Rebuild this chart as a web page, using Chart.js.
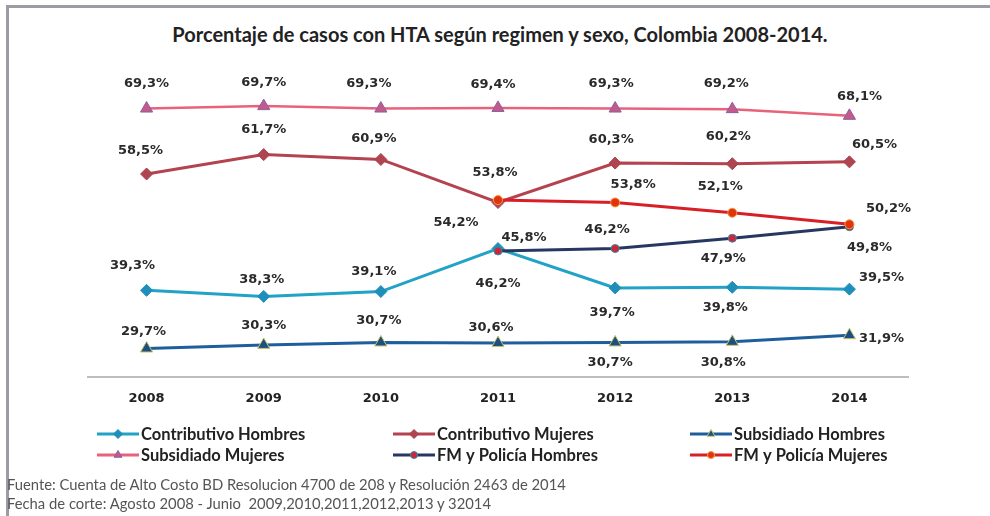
<!DOCTYPE html>
<html>
<head>
<meta charset="utf-8">
<script src="https://cdn.jsdelivr.net/npm/chart.js@4.4.1/dist/chart.umd.min.js"></script>
<style>
  html, body { margin: 0; padding: 0; background: #fff; }
  #wrap { position: relative; width: 990px; height: 516px; overflow: hidden; }
  #frame { position: absolute; left: 6px; top: 5px; right: 0; bottom: 0;
           border-top: 3px solid #9c9ca4; border-left: 3px solid #9c9ca4; }
  #title { position: absolute; left: 0; width: 1000px; top: 22px; text-align: center;
           font: bold 20px Lato, sans-serif; color: #222; }
  #chart { position: absolute; left: 0; top: 0; }
  .note { position: absolute; left: 7px; font: 14.8px Lato, sans-serif; color: #555; white-space: nowrap; }
</style>
</head>
<body>
<div id="wrap">
  <div id="frame"></div>
  <div id="title">Porcentaje de casos con HTA según regimen y sexo, Colombia 2008-2014.</div>
  <canvas id="chart" width="990" height="516"></canvas>
  <div class="note" style="top:475px">Fuente: Cuenta de Alto Costo BD Resolucion 4700 de 208 y Resolución 2463 de 2014</div>
  <div class="note" style="top:494px">Fecha de corte: Agosto 2008 - Junio&nbsp; 2009,2010,2011,2012,2013 y 32014</div>
</div>
<script>
// data
let years = ['2008', '2009', '2010', '2011', '2012', '2013', '2014'];

let contributivoHombres = [39.3, 38.3, 39.1, 46.2, 39.7, 39.8, 39.5];
let contributivoMujeres = [58.5, 61.7, 60.9, 53.8, 60.3, 60.2, 60.5];
let subsidiadoHombres   = [29.7, 30.3, 30.7, 30.6, 30.7, 30.8, 31.9];
let subsidiadoMujeres   = [69.3, 69.7, 69.3, 69.4, 69.3, 69.2, 68.1];
let fmHombres           = [null, null, null, 45.8, 46.2, 47.9, 49.8];
let fmMujeres           = [null, null, null, 54.2, 53.8, 52.1, 50.2];

// where each value label sits, relative to its point (dx, dy)
let labelsCH = [[-14,-25],[-2,-17],[-7,-20],[0,35],[-3,25],[-7,20],[32,-12]];
let labelsCM = [[-6,-23],[0,-25],[-7,-21],[-3,-30],[-4,-23],[-4,-27],[25,-17]];
let labelsSH = [[-3,-17],[0,-19],[-2,-22],[-7,-15],[-5,20],[-9,21],[32,3]];
let labelsSM = [[0,-25],[0,-23],[-12,-25],[-5,-23],[-4,-25],[-6,-26],[10,-19]];
let labelsFH = [null,null,null,[26,-13],[-8,-19],[-9,20],[20,21]];
let labelsFM = [null,null,null,[-42,23],[18,-18],[-12,-26],[39,-16]];

function serie(label, data, line, fill, border, style, radius, width, labels, order) {
    return {
        label: label,
        data: data,
        borderColor: line,
        backgroundColor: line,
        borderWidth: width,
        pointStyle: style,
        pointRadius: radius,
        pointHoverRadius: radius,
        pointBackgroundColor: fill,
        pointBorderColor: border,
        pointBorderWidth: 1,
        tension: 0,
        order: order,
        labelPos: labels
    };
}

let datasets = [
    serie('Contributivo Hombres', contributivoHombres, '#22a2c6', '#1f8fb9', '#1f8fb9', 'rectRot', 6, 3, labelsCH, 2),
    serie('Contributivo Mujeres', contributivoMujeres, '#b4434f', '#b04552', '#a8404c', 'rectRot', 6, 3, labelsCM, 2),
    serie('Subsidiado Hombres', subsidiadoHombres, '#1f5e9c', '#1d4f80', '#c9c56a', 'triangle', 7, 3, labelsSH, 2),
    serie('Subsidiado Mujeres', subsidiadoMujeres, '#e8627b', '#c45a8c', '#8a5f9e', 'triangle', 7, 2.5, labelsSM, 2),
    serie('FM y Policía Hombres', fmHombres, '#263862', '#cf2440', '#2f8f95', 'circle', 4, 3, labelsFH, 1),
    serie('FM y Policía Mujeres', fmMujeres, '#d81f26', '#e0340f', '#f39a3a', 'circle', 4.5, 3, labelsFM, 0)
];

// value labels
const valueLabels = {
    id: 'valueLabels',
    afterDatasetsDraw(chart) {
        let ctx = chart.ctx;
        ctx.save();
        ctx.font = 'bold 13px "DejaVu Sans", sans-serif';
        ctx.fillStyle = '#2a2a2a';
        ctx.textAlign = 'center';
        ctx.textBaseline = 'middle';
        chart.data.datasets.forEach((ds, i) => {
            let meta = chart.getDatasetMeta(i);
            meta.data.forEach((pt, j) => {
                let v = ds.data[j];
                if (v === null) return;
                let off = ds.labelPos[j] || [0, -20];
                let txt = v.toFixed(1).replace('.', ',') + '%';
                ctx.fillText(txt, pt.x + off[0], pt.y + off[1]);
            });
        });
        ctx.restore();
    }
};

// legend in a 3 x 2 grid like the original
const gridLegend = {
    id: 'gridLegend',
    afterDraw(chart) {
        let ctx = chart.ctx;
        let colX = [97, 393, 690];
        let rowY = [434, 455];
        ctx.save();
        ctx.font = 'bold 16.5px Lato, sans-serif';
        ctx.fillStyle = '#222';
        ctx.textBaseline = 'middle';
        chart.data.datasets.forEach((ds, i) => {
            let x = colX[i % 3];
            let y = rowY[Math.floor(i / 3)];
            ctx.strokeStyle = ds.borderColor;
            ctx.lineWidth = 3;
            ctx.beginPath();
            ctx.moveTo(x, y);
            ctx.lineTo(x + 42, y);
            ctx.stroke();
            ctx.fillStyle = ds.pointBackgroundColor;
            ctx.strokeStyle = ds.pointBorderColor;
            ctx.lineWidth = 1;
            Chart.helpers.drawPoint(ctx, {
                pointStyle: ds.pointStyle,
                radius: ds.pointStyle === 'circle' ? 3.5 : 4.5,
                borderWidth: 1,
                rotation: 0
            }, x + 21, y);
            ctx.fillStyle = '#222';
            ctx.fillText(ds.label, x + 44, y + 1);
        });
        ctx.restore();
    }
};

new Chart(document.getElementById('chart'), {
    type: 'line',
    data: { labels: years, datasets: datasets },
    options: {
        responsive: false,
        animation: false,
        layout: { padding: { left: 88, right: 82, top: 74, bottom: 0 } },
        plugins: {
            legend: { display: false },
            title: { display: false },
            tooltip: { enabled: false }
        },
        scales: {
            y: { display: false, min: 25, max: 75 },
            x: {
                offset: true,
                grid: { display: false, drawTicks: false },
                border: { display: true, color: '#bdbdbd', width: 2 },
                ticks: {
                    padding: 14,
                    color: '#222',
                    font: { family: '"DejaVu Sans"', size: 13, weight: 'bold' }
                },
                afterFit(scale) { scale.height = 139; }
            }
        }
    },
    plugins: [valueLabels, gridLegend]
});
</script>
</body>
</html>
